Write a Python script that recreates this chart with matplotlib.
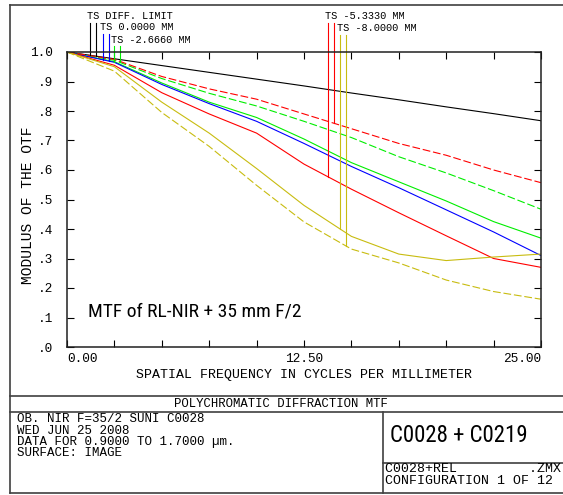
import matplotlib
matplotlib.use('Agg')
import matplotlib.pyplot as plt
from matplotlib.lines import Line2D
import numpy as np

# spatial frequency (cycles/mm)
freq = [0, 2.5, 5, 7.5, 10, 12.5, 15, 17.5, 20, 22.5, 25]

# MTF curves
diff_limit = [1.0, 0.977, 0.954, 0.931, 0.908, 0.885, 0.861, 0.838, 0.814, 0.791, 0.767]
f0_ts      = [1.0, 0.965, 0.89, 0.825, 0.765, 0.69, 0.612, 0.54, 0.465, 0.39, 0.31]
f2_t       = [1.0, 0.967, 0.895, 0.83, 0.778, 0.705, 0.625, 0.56, 0.495, 0.425, 0.369]
f2_s       = [1.0, 0.972, 0.91, 0.86, 0.817, 0.765, 0.71, 0.645, 0.59, 0.53, 0.467]
f5_t       = [1.0, 0.955, 0.862, 0.79, 0.725, 0.62, 0.535, 0.455, 0.377, 0.30, 0.27]
f5_s       = [1.0, 0.975, 0.917, 0.875, 0.84, 0.79, 0.74, 0.69, 0.65, 0.60, 0.557]
f8_t       = [1.0, 0.95, 0.83, 0.725, 0.605, 0.48, 0.375, 0.315, 0.293, 0.305, 0.315]
f8_s       = [1.0, 0.935, 0.795, 0.68, 0.548, 0.424, 0.332, 0.285, 0.227, 0.188, 0.162]

labels = ['TS DIFF. LIMIT', 'TS 0.0000 MM', 'TS -2.6660 MM', 'TS -5.3330 MM', 'TS -8.0000 MM']
marker_x = [[1.23, 1.55], [1.88, 2.22], [2.46, 2.78], [13.77, 14.07], [14.39, 14.72]]
marker_top = [1.100, 1.062, 1.019, 1.100, 1.058]

black = 'black'
blue = '#0000ff'
green = '#00ee00'
red = '#ff0000'
yellow = '#c8bc10'

W, H = 563, 495
fig = plt.figure(figsize=(W / 100, H / 100), dpi=100)

def fx(p):
    return p / W

def fy(p):
    return 1 - p / H

ax = fig.add_axes([fx(67), fy(347), fx(541) - fx(67), fy(52) - fy(347)])
mono = 'Liberation Mono'
narrow = ['Roboto Condensed', 'Liberation Sans']
lw = 0.8
dash = (0, (7, 2.5))

ax.plot(freq, diff_limit, color=black, lw=lw)
ax.plot(freq, f2_s, color=green, lw=lw, ls=dash)
ax.plot(freq, f2_t, color=green, lw=lw)
ax.plot(freq, f0_ts, color=blue, lw=lw)
ax.plot(freq, f5_s, color=red, lw=lw, ls=dash)
ax.plot(freq, f5_t, color=red, lw=lw)
ax.plot(freq, f8_t, color=yellow, lw=lw)
ax.plot(freq, f8_s, color=yellow, lw=lw, ls=dash)

# leader lines + labels at the top
curves = [(diff_limit, diff_limit), (f0_ts, f0_ts), (f2_t, f2_s), (f5_t, f5_s), (f8_t, f8_s)]
colors = [black, blue, green, red, yellow]
for lab, xs, top, (ct, cs), c in zip(labels, marker_x, marker_top, curves, colors):
    for xv, cv in zip(xs, (ct, cs)):
        ax.plot([xv, xv], [np.interp(xv, freq, cv), top], color=c, lw=lw, clip_on=False)
    ax.text(xs[0] - 0.16, top + 0.005, lab, fontsize=7.4, family=mono,
            ha='left', va='bottom')

ax.set_xlim(0, 25)
ax.set_ylim(0, 1)
ax.set_xticks(np.arange(0, 25.01, 2.5))
ax.set_xticklabels(['0.00', '', '', '', '', '12.50', '', '', '', '', '25.00'],
                   family=mono, fontsize=9.2)
xt = ax.get_xticklabels()
xt[0].set_ha('left')
xt[-1].set_ha('right')
ax.set_yticks(np.arange(0, 1.01, 0.1))
ax.set_yticklabels(['.0', '.1', '.2', '.3', '.4', '.5', '.6', '.7', '.8', '.9', '1.0'],
                   family=mono, fontsize=9.2)
ax.tick_params(direction='in', length=5, width=0.8, top=True, right=True, pad=4)
ax.tick_params(axis='y', pad=10)
for s in ax.spines.values():
    s.set_linewidth(1.1)
    s.set_color('#202020')

ax.set_xlabel('SPATIAL FREQUENCY IN CYCLES PER MILLIMETER', family=mono,
              fontsize=9.5, labelpad=3)
ax.set_ylabel('MODULUS OF THE OTF', family=mono, fontsize=10.5)
ax.yaxis.set_label_coords(-0.068, 0.48)

ax.text(1.12, 0.122, 'MTF of RL-NIR + 35 mm F/2', fontsize=14,
        family=narrow, va='center', ha='left')

# outer frame and info block
frame = [((10, 5), (563, 5)), ((10, 5), (10, 493)), ((10, 493), (563, 493)),
         ((10, 396), (563, 396)), ((10, 412), (563, 412)),
         ((383, 412), (383, 493)), ((383, 463), (563, 463))]
for (x0, y0), (x1, y1) in frame:
    fig.add_artist(Line2D([fx(x0), fx(x1)], [fy(y0), fy(y1)], color='#404040', lw=1.2))

fig.text(fx(281), fy(404), 'POLYCHROMATIC DIFFRACTION MTF', family=mono, fontsize=8.8,
         ha='center', va='center')
info = ['OB. NIR F=35/2 SUNI C0028', 'WED JUN 25 2008',
        'DATA FOR 0.9000 TO 1.7000 \u00b5m.', 'SURFACE: IMAGE']
for i, line in enumerate(info):
    fig.text(fx(17), fy(419.5 + 11 * i), line, family=mono, fontsize=9,
             ha='left', va='center')
fig.text(fx(390), fy(436), 'C0028 + C0219', fontsize=16.5,
         family=narrow, ha='left', va='center')
fig.text(fx(385), fy(469), 'C0028+REL         .ZMX', family=mono, fontsize=9.5,
         ha='left', va='center')
fig.text(fx(385), fy(481), 'CONFIGURATION 1 OF 12', family=mono, fontsize=9.5,
         ha='left', va='center')

fig.savefig('out.png', dpi=100)
